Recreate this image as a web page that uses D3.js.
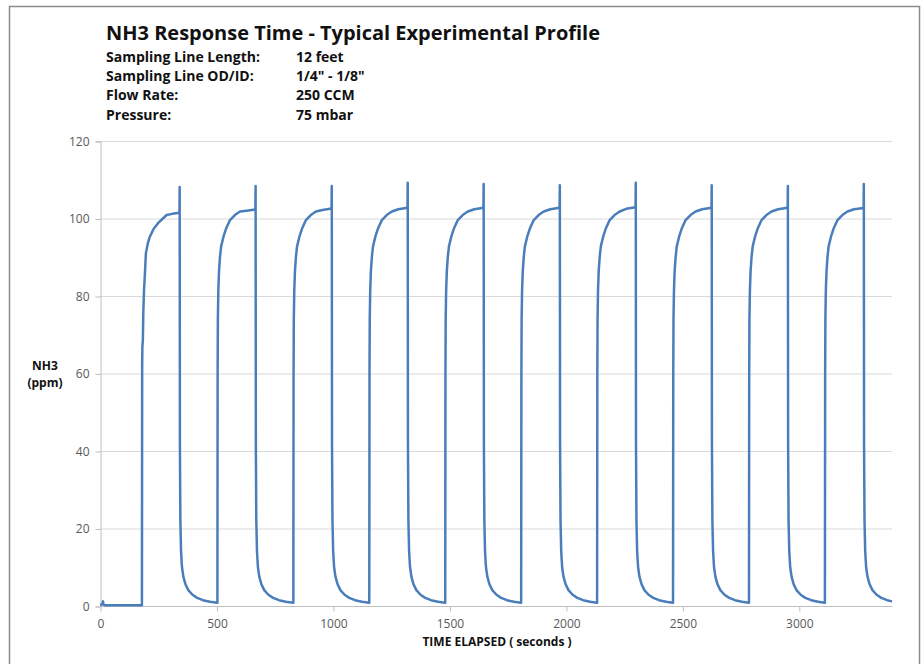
<!DOCTYPE html>
<html>
<head>
<meta charset="utf-8">
<script src="https://cdn.jsdelivr.net/npm/d3@7"></script>
<style>
  body { margin: 0; background: #fff; }
  svg { display: block; font-family: "Open Sans", "Liberation Sans", sans-serif; }
</style>
</head>
<body>
<svg id="chart" width="922" height="664"></svg>
<script>
// NH3 response time profile: [seconds, ppm]
const baseline = [[0,0.3],[5,0.3],[10,0.5],[13,1.2],[15,0.4],[20,0.2],[100,0.2],[179,0.2]];
const cycle1 = [[180,0.2],[181,62],[182,67],[184,68.5],[186,76],[189,81.5],[193,86],[197,91],[205,93.5],[214,95.3],[230,97.3],[249,98.8],[270,100],[286,100.9],[310,101.2],[341,101.5],[342,108.1],
  [343,42],[345,22],[348,14],[352,10],[358,7.5],[367,5.6],[379,4.1],[397,2.9],[417,2.1],[442,1.5],[472,1.1],[503,0.85]];
const cycle2 = [[504,0.85],[505,60],[506,74],[508,81.5],[511,86.5],[515,90],[520,92.8],[530,95.3],[542,97.5],[558,99.6],[579,100.9],[601,101.8],[629,102.0],[667,102.3],[668,108.4],
  [669,42],[671,22],[674,14],[678,10],[684,7.5],[693,5.6],[705,4.1],[723,2.9],[743,2.1],[768,1.5],[798,1.1],[829,0.85]];
const cycle3 = [[830,0.85],[831,60],[832,74],[834,81.5],[837,86.5],[841,90],[846,92.8],[856,95.3],[868,97.5],[884,99.6],[905,100.9],[927,101.8],[955,102.2],[994,102.6],[995,108.4],
  [996,42],[998,22],[1001,14],[1005,10],[1011,7.5],[1020,5.6],[1032,4.1],[1050,2.9],[1070,2.1],[1095,1.5],[1125,1.1],[1155,0.85]];
const cycle4 = [[1156,0.85],[1157,60],[1158,74],[1160,81.5],[1163,86.5],[1167,90],[1172,92.8],[1182,95.3],[1194,97.5],[1210,99.6],[1231,100.9],[1253,101.8],[1281,102.4],[1320,102.8],[1321,109.2],
  [1322,42],[1324,22],[1327,14],[1331,10],[1337,7.5],[1346,5.6],[1358,4.1],[1376,2.9],[1396,2.1],[1421,1.5],[1451,1.1],[1481,0.85]];
const cycle5 = [[1482,0.85],[1483,60],[1484,74],[1486,81.5],[1489,86.5],[1493,90],[1498,92.8],[1508,95.3],[1520,97.5],[1536,99.6],[1557,100.9],[1579,101.8],[1607,102.4],[1646,102.8],[1647,108.9],
  [1648,42],[1650,22],[1653,14],[1657,10],[1663,7.5],[1672,5.6],[1684,4.1],[1702,2.9],[1722,2.1],[1747,1.5],[1777,1.1],[1807,0.85]];
const cycle6 = [[1808,0.85],[1809,60],[1810,74],[1812,81.5],[1815,86.5],[1819,90],[1824,92.8],[1834,95.3],[1846,97.5],[1862,99.6],[1883,100.9],[1905,101.8],[1933,102.4],[1973,102.8],[1974,108.6],
  [1975,42],[1977,22],[1980,14],[1984,10],[1990,7.5],[1999,5.6],[2011,4.1],[2029,2.9],[2049,2.1],[2074,1.5],[2104,1.1],[2133,0.85]];
const cycle7 = [[2134,0.85],[2135,60],[2136,74],[2138,81.5],[2141,86.5],[2145,90],[2150,92.8],[2160,95.3],[2172,97.5],[2188,99.6],[2209,100.9],[2231,101.8],[2259,102.5],[2299,102.9],[2300,109.2],
  [2301,42],[2303,22],[2306,14],[2310,10],[2316,7.5],[2325,5.6],[2337,4.1],[2355,2.9],[2375,2.1],[2400,1.5],[2430,1.1],[2459,0.85]];
const cycle8 = [[2460,0.85],[2461,60],[2462,74],[2464,81.5],[2467,86.5],[2471,90],[2476,92.8],[2486,95.3],[2498,97.5],[2514,99.6],[2535,100.9],[2557,101.8],[2585,102.4],[2625,102.8],[2626,108.6],
  [2627,42],[2629,22],[2632,14],[2636,10],[2642,7.5],[2651,5.6],[2663,4.1],[2681,2.9],[2701,2.1],[2726,1.5],[2756,1.1],[2785,0.85]];
const cycle9 = [[2786,0.85],[2787,60],[2788,74],[2790,81.5],[2793,86.5],[2797,90],[2802,92.8],[2812,95.3],[2824,97.5],[2840,99.6],[2861,100.9],[2883,101.8],[2911,102.4],[2952,102.8],[2953,108.4],
  [2954,42],[2956,22],[2959,14],[2963,10],[2969,7.5],[2978,5.6],[2990,4.1],[3008,2.9],[3028,2.1],[3053,1.5],[3083,1.1],[3111,0.85]];
const cycle10 = [[3112,0.85],[3113,60],[3114,74],[3116,81.5],[3119,86.5],[3123,90],[3128,92.8],[3138,95.3],[3150,97.5],[3166,99.6],[3187,100.9],[3209,101.8],[3237,102.4],[3278,102.7],[3279,108.9],
  [3280,42],[3282,22],[3285,14],[3289,10],[3295,7.5],[3304,5.6],[3316,4.1],[3334,2.9],[3354,2.1],[3379,1.5],[3400,1.2]];

const yTicks = [0, 20, 40, 60, 80, 100, 120];
const xTicks = [0, 500, 1000, 1500, 2000, 2500, 3000];
const infoLabels = ['Sampling Line Length:', 'Sampling Line OD/ID:', 'Flow Rate:', 'Pressure:'];
const infoValues = ['12 feet', '1/4" - 1/8"', '250 CCM', '75 mbar'];

const series = [].concat(baseline, cycle1, cycle2, cycle3, cycle4, cycle5, cycle6, cycle7, cycle8, cycle9, cycle10);

const svg = d3.select('#chart');
const x = d3.scaleLinear().domain([0, 3400]).range([100, 892]);
const y = d3.scaleLinear().domain([0, 120]).range([606, 141]);

// outer frame
svg.append('rect').attr('x', 9.5).attr('y', 6.5).attr('width', 910).attr('height', 700)
  .attr('fill', 'none').attr('stroke', '#8c8c8c').attr('stroke-width', 1.5);

// title + info block
svg.append('text').attr('x', 106).attr('y', 40).attr('font-size', 20).attr('font-weight', 'bold')
  .attr('fill', '#111').attr('textLength', 494).attr('lengthAdjust', 'spacingAndGlyphs')
  .text('NH3 Response Time - Typical Experimental Profile');
infoLabels.forEach((t, i) => {
  svg.append('text').attr('x', 106).attr('y', 62 + i * 19.2).attr('font-size', 14)
    .attr('font-weight', 'bold').attr('fill', '#111').text(t);
  svg.append('text').attr('x', 296).attr('y', 62 + i * 19.2).attr('font-size', 14)
    .attr('font-weight', 'bold').attr('fill', '#111').text(infoValues[i]);
});

// gridlines
svg.append('g').selectAll('line').data(yTicks.filter(d => d > 0)).join('line')
  .attr('x1', 100).attr('x2', 892).attr('y1', d => y(d) + 0.5).attr('y2', d => y(d) + 0.5)
  .attr('stroke', '#d9d9d9').attr('stroke-width', 1);

// axes
const yAxis = svg.append('g').attr('transform', 'translate(100.5,0.5)')
  .call(d3.axisLeft(y).tickValues(yTicks).tickSize(5).tickPadding(6));
const xAxis = svg.append('g').attr('transform', `translate(0.5,${y(0) + 0.5})`)
  .call(d3.axisBottom(x).tickValues(xTicks).tickFormat(d3.format('d')).tickSize(5).tickPadding(8));
[yAxis, xAxis].forEach(g => {
  g.select('.domain').attr('stroke', '#bfbfbf');
  g.selectAll('.tick line').attr('stroke', '#bfbfbf');
  g.selectAll('.tick text').attr('fill', '#595959').attr('font-size', 12)
    .attr('font-family', '"Open Sans", sans-serif');
});
xAxis.select('.domain').attr('d', `M100,0H892`);

// axis titles
svg.append('text').attr('x', 497).attr('y', 646).attr('text-anchor', 'middle')
  .attr('font-size', 12).attr('font-weight', 'bold').attr('fill', '#111')
  .text('TIME ELAPSED ( seconds )');
svg.append('text').attr('x', 45).attr('y', 370).attr('text-anchor', 'middle')
  .attr('font-size', 12).attr('font-weight', 'bold').attr('fill', '#111').text('NH3');
svg.append('text').attr('x', 45).attr('y', 387).attr('text-anchor', 'middle')
  .attr('font-size', 12).attr('font-weight', 'bold').attr('fill', '#111').text('(ppm)');

// data line
svg.append('path').datum(series)
  .attr('d', d3.line().x(d => x(d[0])).y(d => y(d[1])))
  .attr('fill', 'none').attr('stroke', '#4a7ebb').attr('stroke-width', 2.5)
  .attr('stroke-linejoin', 'round');
</script>
</body>
</html>
